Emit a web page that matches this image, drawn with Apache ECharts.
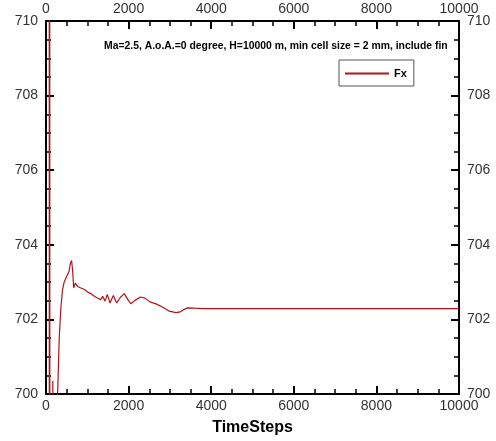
<!DOCTYPE html>
<html>
<head>
<meta charset="utf-8">
<script src="https://cdn.jsdelivr.net/npm/echarts@6/dist/echarts.min.js"></script>
<style>
    html, body { margin: 0; padding: 0; background: #fff; }
    #main { width: 496px; height: 441px; }
</style>
</head>
<body>
<div id="main"></div>
<script>
// time steps and Fx values
var timeSteps = [0, 75, 82, 88, 94, 150, 165, 180, 270, 281, 320, 360, 400, 440, 520, 560,
    590, 620, 645, 670, 710, 770, 830, 890, 950, 1010, 1090, 1170, 1235, 1280, 1324, 1372,
    1428, 1484, 1550, 1630, 1711, 1792, 1896, 1993, 2051, 2155, 2293, 2397, 2518, 2680,
    2840, 2985, 3146, 3250, 3349, 3429, 3600, 3792, 10000];
var fxValues = [730, 730, 690, 730, 690, 690, 700.35, 690, 690, 700, 701.5, 702.3, 702.8, 703.0, 703.2, 703.3,
    703.5, 703.58, 703.3, 702.85, 702.97, 702.88, 702.85, 702.82, 702.79, 702.73, 702.69, 702.62, 702.58, 702.56, 702.53, 702.62,
    702.49, 702.67, 702.44, 702.64, 702.44, 702.58, 702.69, 702.51, 702.42, 702.51, 702.60, 702.57, 702.47, 702.41,
    702.32, 702.22, 702.18, 702.2, 702.27, 702.31, 702.3, 702.29, 702.29];
var titleText = 'Ma=2.5, A.o.A.=0 degree, H=10000 m, min cell size = 2 mm, include fin';

var myChart = echarts.init(document.getElementById('main'));

var points = [];
for (var i = 0; i < timeSteps.length; i++) {
    points.push([timeSteps[i], fxValues[i]]);
}

var lineColor = '#b5121b';
var labelStyle = { fontFamily: 'Liberation Sans', fontSize: 14, color: '#333' };

function xAx(pos, showName) {
    return {
        type: 'value', position: pos, min: 0, max: 10000, interval: 2000,
        name: showName ? 'TimeSteps' : '', nameLocation: 'middle', nameGap: 26,
        nameTextStyle: { fontFamily: 'Liberation Sans', fontSize: 16, fontWeight: 'bold', color: '#000' },
        axisLine: { show: true, onZero: false, lineStyle: { color: '#000', width: 2 } },
        axisTick: { show: true, inside: true, length: 8, lineStyle: { color: '#000', width: 2 } },
        minorTick: { show: true, splitNumber: 4, length: 5, lineStyle: { color: '#000', width: 1.5 } },
        splitLine: { show: false },
        axisLabel: Object.assign({
            margin: 5, showMaxLabel: true, showMinLabel: true,
            formatter: function (v) { return String(v); }
        }, labelStyle)
    };
}

function yAx(pos) {
    return {
        type: 'value', position: pos, min: 700, max: 710, interval: 2,
        axisLine: { show: true, onZero: false, lineStyle: { color: '#000', width: 2 } },
        axisTick: { show: true, inside: true, length: 8, lineStyle: { color: '#000', width: 2 } },
        minorTick: { show: true, splitNumber: 4, length: 5, lineStyle: { color: '#000', width: 1.5 } },
        splitLine: { show: false },
        axisLabel: Object.assign({ margin: 8 }, labelStyle)
    };
}

var option = {
    backgroundColor: '#fff',
    animation: false,
    title: {
        text: titleText,
        left: 99, top: 36,
        textStyle: { fontFamily: 'Liberation Sans', fontSize: 10.4, fontWeight: 'bold', color: '#000' }
    },
    legend: {
        data: [{ name: 'Fx', icon: 'rect', itemStyle: { color: lineColor, borderWidth: 0 } }],
        left: 339, top: 60,
        padding: [8, 7, 7, 6],
        borderColor: '#555', borderWidth: 1,
        itemWidth: 44, itemHeight: 2,
        itemStyle: { color: lineColor, borderWidth: 0 },
        textStyle: { fontFamily: 'Liberation Sans', fontSize: 11, fontWeight: 'bold', color: '#000' }
    },
    grid: { left: 46, right: 37, top: 21, bottom: 43 },
    xAxis: [xAx('bottom', true), xAx('top', false)],
    yAxis: [yAx('left'), yAx('right')],
    series: [
        {
            name: 'Fx',
            type: 'line',
            xAxisIndex: 0,
            yAxisIndex: 0,
            data: points,
            symbol: 'none',
            clip: true,
            lineStyle: { color: lineColor, width: 1.2 },
            itemStyle: { color: lineColor }
        }
    ]
};

myChart.setOption(option);
</script>
</body>
</html>
